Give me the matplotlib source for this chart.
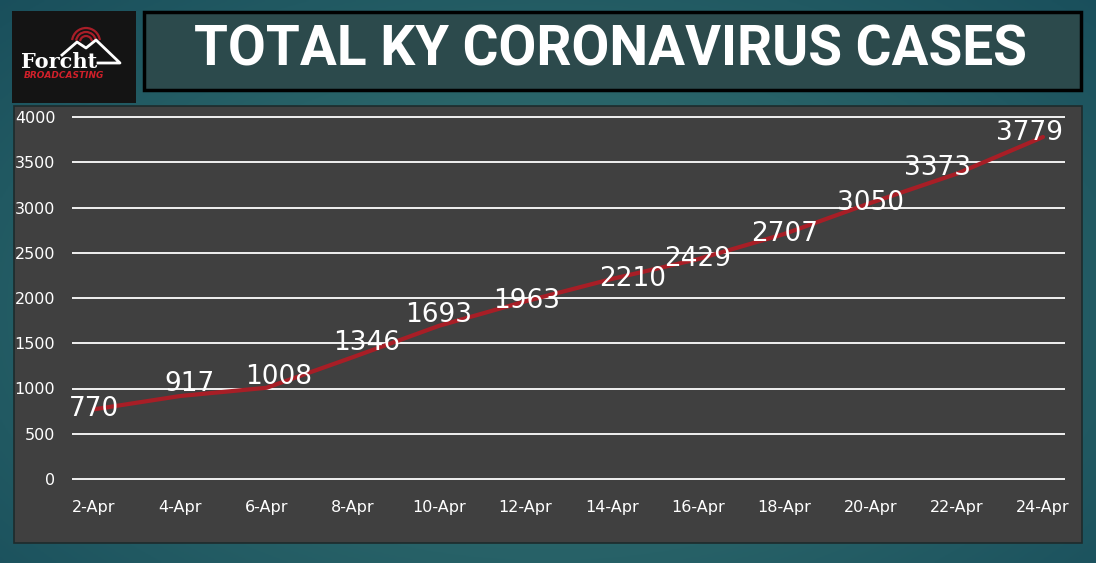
import numpy as np
import matplotlib.pyplot as plt
from matplotlib.patches import Rectangle, Arc

# Data
dates = ["2-Apr", "4-Apr", "6-Apr", "8-Apr", "10-Apr", "12-Apr",
         "14-Apr", "16-Apr", "18-Apr", "20-Apr", "22-Apr", "24-Apr"]
cases = [770, 917, 1008, 1346, 1693, 1963, 2210, 2429, 2707, 3050, 3373, 3779]
y_ticks = [0, 500, 1000, 1500, 2000, 2500, 3000, 3500, 4000]
title = "TOTAL KY CORONAVIRUS CASES"

# label nudges in points (Excel moved a few labels around)
label_offsets = [(0, 0), (7, 9), (9, 8), (10, 10), (0, 8), (1, 0),
                 (15, 0), (0, 0), (0, 0), (0, 0), (-14, 4), (-10, 3)]

W, H = 1096, 563
fig = plt.figure(figsize=(W / 100, H / 100), dpi=100)


def fx(px):
    return px / W


def fy(py):
    return 1 - py / H


# teal background gradient
bg = fig.add_axes([0, 0, 1, 1])
yy, xx = np.mgrid[0:1:200j, 0:1:400j]
d = np.sqrt(((xx - 0.5) / 0.7) ** 2 + ((yy - 0.55) / 0.8) ** 2)
c_in = np.array([0.22, 0.47, 0.46])
c_out = np.array([0.10, 0.31, 0.36])
t = np.clip(d, 0, 1)[..., None]
bg.imshow(c_in * (1 - t) + c_out * t, aspect="auto", extent=[0, 1, 0, 1])
bg.set_xlim(0, 1)
bg.set_ylim(0, 1)
bg.axis("off")

# logo box
bg.add_patch(Rectangle((fx(12), fy(103)), fx(124), (103 - 11) / H,
                       facecolor="#141414", edgecolor="none"))
for r in [12, 20, 28]:
    bg.add_patch(Arc((fx(86), fy(42)), r / W, r / H, theta1=15, theta2=165,
                     color="#a81e28", lw=1.6))
mx = [62, 77, 86, 96, 120, 98]
my = [55, 42, 48, 40, 63, 63]
bg.plot([fx(v) for v in mx], [fy(v) for v in my], color="white", lw=2)
bg.text(fx(21), fy(62), "Forcht", fontsize=15, fontweight="bold", family="DejaVu Serif",
        color="white", va="center", ha="left")
bg.text(fx(24), fy(76), "BROADCASTING", fontsize=6.5, fontweight="bold", style="italic",
        color="#d0202a", va="center", ha="left")

# title box
bg.add_patch(Rectangle((fx(144), fy(90)), fx(1081 - 144), (90 - 12) / H,
                       facecolor="#2c4a4c", edgecolor="black", lw=2.5))
bg.text(fx(610), fy(51), title, fontsize=39.5, fontweight="bold",
        family=["Roboto", "DejaVu Sans"], color="white",
        ha="center", va="center")

# chart panel
bg.add_patch(Rectangle((fx(14), fy(543)), fx(1082 - 14), (543 - 106) / H,
                       facecolor="#404040", edgecolor="#1d2b2c", lw=1.2))

# plot area
ppu = (479 - 117) / 4000
pad = 20
ax = fig.add_axes([fx(72), fy(479 + pad * ppu), fx(1065 - 72),
                   (362 + 2 * pad * ppu) / H])
ax.set_facecolor("none")
x = np.arange(len(dates))
ax.plot(x, cases, color="#a81e26", lw=3, solid_capstyle="round", zorder=3)
for i, v in enumerate(cases):
    dx, dy = label_offsets[i]
    ax.annotate(str(v), (x[i], v), xytext=(dx, dy), textcoords="offset points",
                ha="center", va="center", fontsize=19, color="white", zorder=4)

ax.set_xlim(-0.255, len(dates) - 1 + 0.255)
ax.set_ylim(-pad, 4000 + pad)
ax.set_yticks(y_ticks)
ax.set_xticks(x)
ax.set_xticklabels(dates)
ax.grid(axis="y", color="white", lw=1.3)
ax.set_axisbelow(True)
ax.tick_params(axis="both", length=0, colors="white", labelsize=11.5)
ax.tick_params(axis="y", pad=12)
ax.tick_params(axis="x", pad=14)
for s in ax.spines.values():
    s.set_visible(False)

plt.savefig("out.png", dpi=100)
